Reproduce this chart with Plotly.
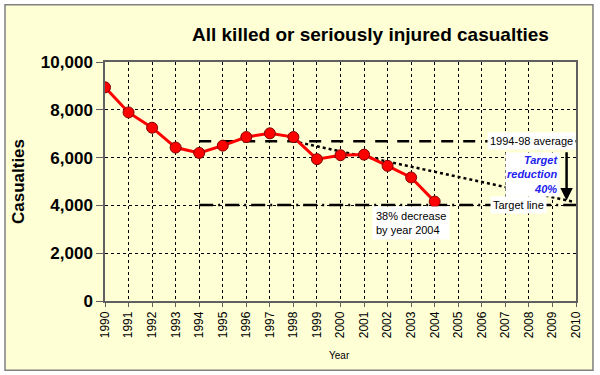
import plotly.graph_objects as go

years = list(range(1990, 2005))
casualties = [8940, 7890, 7250, 6420, 6195, 6500, 6860, 7015, 6860, 5935, 6100, 6125, 5655, 5170, 4160]
avg_years = [1994, 2010]
avg_value = sum(casualties[4:9]) / 5
target_value = avg_value * 0.6
trend_years = [1998, 2009.9]
trend_values = [avg_value, 4150]
tick_years = list(range(1990, 2011))
y_ticks = [0, 2000, 4000, 6000, 8000, 10000]

BG = "#FFFFD5"
FONT = "Liberation Sans, Arial, sans-serif"

fig = go.Figure()

fig.add_trace(go.Scatter(x=avg_years, y=[avg_value, avg_value], mode="lines",
                         line=dict(color="black", width=2.5, dash="12px,10px"), hoverinfo="skip"))
fig.add_trace(go.Scatter(x=avg_years, y=[target_value, target_value], mode="lines",
                         line=dict(color="black", width=2.5, dash="14px,5px,2px,5px"), hoverinfo="skip"))
fig.add_trace(go.Scatter(x=trend_years, y=trend_values, mode="lines",
                         line=dict(color="black", width=2.5, dash="dot"), hoverinfo="skip"))
fig.add_trace(go.Scatter(x=years, y=casualties, mode="lines+markers",
                         line=dict(color="#FF0000", width=3),
                         marker=dict(size=11, color="#FF0000", line=dict(color="#800000", width=1))))

fig.add_shape(type="rect", xref="paper", yref="paper", x0=-0.2123, x1=1.036, y0=-0.29, y1=1.24,
              line=dict(color="#808080", width=1.5), fillcolor=BG, layer="below")

ann = []
ann.append(dict(text="All killed or seriously injured casualties", xref="paper", yref="paper",
                x=0.563, y=1.115, xanchor="center", yanchor="middle", showarrow=False,
                font=dict(size=19, color="black", family=FONT, weight="bold")))
ann.append(dict(text="1994-98 average", x=2008.1, y=avg_value, showarrow=False,
                bgcolor="white", font=dict(size=11, color="black", family=FONT), borderpad=2))
ann.append(dict(text="Target line", x=2006.35, xanchor="left", y=target_value, showarrow=False,
                bgcolor="white", font=dict(size=11, color="black", family=FONT), borderpad=2))
ann.append(dict(text="<i>Target<br>reduction<br>40%</i>", x=2009.3, xanchor="right", y=5300,
                align="right", showarrow=False, bgcolor="white",
                font=dict(size=11, color="#2222EE", family=FONT, weight="bold")))
ann.append(dict(text="38% decrease<br>by year 2004", x=2001.35, xanchor="left", y=3980, yanchor="top",
                align="left", showarrow=False, bgcolor="white", borderpad=3,
                font=dict(size=11, color="black", family=FONT)))
ann.append(dict(text="", x=2009.6, y=4200, ax=2009.6, ay=6290, axref="x", ayref="y",
                showarrow=True, arrowhead=2, arrowsize=1, arrowwidth=2.5, arrowcolor="black"))
ann.append(dict(text="Year", xref="paper", yref="paper", x=0.497, y=-0.195, yanchor="top",
                showarrow=False, font=dict(size=10, color="black", family=FONT)))

fig.update_layout(
    width=600, height=375,
    margin=dict(l=105, r=24, t=62, b=74),
    paper_bgcolor="white", plot_bgcolor=BG,
    showlegend=False,
    annotations=ann,
    font=dict(family=FONT, color="black"),
)
fig.update_xaxes(range=[1990, 2010], tickmode="array", tickvals=tick_years,
                 ticktext=[str(t) for t in tick_years], tickangle=-90,
                 tickfont=dict(size=12, family=FONT), ticks="outside", ticklen=4, tickcolor="#606060",
                 showgrid=True, gridcolor="black", griddash="dot", gridwidth=1,
                 showline=True, linecolor="#606060", linewidth=1.5, mirror=True, zeroline=False)
fig.update_yaxes(range=[0, 10000], tickmode="array", tickvals=y_ticks,
                 ticktext=[f"{v:,}" for v in y_ticks],
                 tickfont=dict(size=17, family=FONT, weight="bold"), ticks="outside", ticklen=7,
                 tickcolor="#606060",
                 showgrid=True, gridcolor="black", griddash="dot", gridwidth=1,
                 showline=True, linecolor="#606060", linewidth=1.5, mirror=True, zeroline=False,
                 title=dict(text="Casualties", font=dict(size=17, family=FONT, weight="bold"), standoff=12))

fig.write_html("out.html", config={"displayModeBar": False},
               post_script="document.body.style.margin='0';")
